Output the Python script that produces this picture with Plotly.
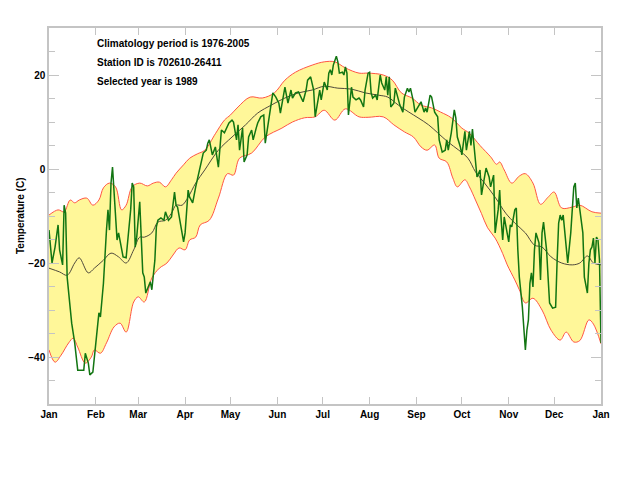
import plotly.graph_objects as go

# day of year (0 = 1 Jan) and temperature (C)
upper_days = [0, 6, 10, 14, 17, 20, 25, 29, 33, 36, 40, 44, 48, 51, 55, 60, 65, 69, 73, 77, 81, 84, 89, 93, 98,
              103, 110, 116, 120, 125, 133, 141, 149, 156, 163, 174, 182, 189, 196, 205, 211, 221, 227, 233, 240,
              246, 253, 259, 266, 273, 278, 285, 292, 296, 298, 301, 306, 311, 315, 320, 325, 330, 334, 339, 346,
              351, 359, 365]
upper_vals = [-9.8, -8.7, -9.1, -6.6, -7.2, -6.6, -6.2, -7.7, -6.6, -4.0, -3.0, -3.8, -8.7, -7.7, -3.8, -3.0, -3.6,
              -3.0, -2.8, -3.8, -2.3, -0.9, 0.9, 2.3, 3.2, 4.0, 7.5, 10.4, 11.5, 13.2, 15.3, 15.1, 16.2, 18.9, 20.6,
              22.1, 22.8, 22.8, 21.5, 20.4, 20.4, 20.0, 18.9, 16.2, 15.1, 13.6, 13.0, 12.1, 10.9, 8.7, 7.6, 5.0, 2.6,
              1.0, 1.5, -0.2, -3.0, -1.5, -1.0, -3.0, -7.5, -6.0, -4.9, -8.3, -8.1, -7.7, -9.1, -9.4]

lower_days = [0, 4, 8, 13, 16, 19, 24, 28, 30, 34, 38, 43, 47, 51, 56, 59, 63, 68, 73, 78, 82, 86, 90, 93, 97, 100,
              106, 112, 118, 122, 126, 134, 143, 154, 161, 169, 176, 182, 189, 196, 205, 211, 221, 228, 235, 241, 246,
              250, 255, 258, 263, 267, 270, 275, 278, 282, 286, 290, 295, 300, 303, 308, 311, 315, 320, 326, 332, 338,
              342, 347, 351, 357, 360, 365]
lower_vals = [-38.5, -41.1, -39.6, -37.0, -36.0, -37.9, -41.3, -40.0, -38.5, -39.2, -37.0, -33.6, -32.8, -34.7,
              -28.3, -27.2, -28.3, -23.2, -21.1, -20.0, -18.3, -16.8, -17.2, -15.1, -14.5, -11.9, -10.9, -6.2, -1.0,
              -1.3, 2.3, 3.4, 6.8, 8.7, 10.0, 10.9, 11.1, 12.5, 10.4, 12.8, 11.1, 11.0, 11.1, 9.4, 7.9, 6.8, 4.7, 4.0,
              5.1, 2.3, 1.5, -1.9, -3.8, -2.3, -3.8, -6.6, -9.5, -12.5, -14.7, -18.0, -20.4, -23.6, -25.7, -28.5,
              -27.5, -30.0, -34.3, -36.4, -34.7, -36.8, -36.5, -32.1, -33.0, -37.2]

mean_days = [0, 7, 12, 17, 20, 26, 30, 36, 41, 46, 51, 56, 60, 63, 68, 72, 77, 81, 84, 88, 92, 97, 103, 112, 121,
             130, 138, 147, 156, 165, 174, 182, 191, 200, 209, 218, 224, 231, 238, 244, 251, 257, 264, 271, 277,
             282, 288, 295, 302, 308, 315, 321, 326, 332, 339, 346, 351, 356, 360, 365]
mean_vals = [-21.1, -21.9, -22.6, -20.0, -18.9, -22.1, -21.1, -19.4, -17.9, -18.7, -20.0, -17.2, -14.5, -14.5,
             -13.6, -11.3, -10.9, -9.4, -7.7, -7.7, -6.0, -3.0, -0.2, 4.0, 6.8, 9.4, 11.9, 13.6, 15.1, 16.2, 16.8,
             17.6, 17.2, 17.0, 16.2, 15.7, 15.3, 13.6, 12.1, 10.9, 9.4, 7.7, 5.7, 4.0, 2.3, -0.6, -3.0, -6.0, -9.4,
             -11.5, -13.6, -16.2, -16.6, -18.7, -20.0, -20.4, -20.0, -18.5, -20.0, -20.4]

year_days = [0, 2, 4, 6, 7, 9, 10, 11, 12, 15, 17, 19, 23, 24, 26, 27, 29, 31, 33, 34, 36, 38, 39, 40, 41, 42, 43,
             45, 46, 48, 49, 51, 52, 53, 54, 55, 56, 57, 58, 60, 61, 62, 63, 64, 67, 68, 70, 71, 72, 74, 76, 77, 79,
             81, 83, 84, 85, 88, 89, 90, 91, 92, 93, 95, 97, 99, 101, 102, 104, 105, 106, 108, 110, 112, 114, 116,
             119, 121, 122, 124, 125, 126, 128, 129, 131, 132, 134, 135, 137, 138, 140, 142, 143, 145, 147, 148, 150,
             152, 153, 155, 156, 158, 160, 161, 163, 165, 167, 168, 170, 171, 173, 175, 176, 178, 179, 180, 182, 184,
             185, 186, 187, 188, 189, 190, 191, 192, 194, 195, 196, 197, 198, 200, 201, 203, 205, 206, 208, 209, 211,
             212, 213, 214, 216, 217, 219, 220, 222, 223, 224, 225, 226, 228, 229, 231, 232, 234, 235, 237, 238, 239,
             241, 242, 244, 246, 248, 249, 250, 252, 253, 255, 257, 258, 260, 262, 263, 264, 266, 268, 269, 270, 272,
             273, 275, 276, 278, 279, 280, 282, 283, 285, 286, 288, 289, 291, 292, 294, 295, 297, 298, 299, 300, 301,
             302, 304, 305, 306, 308, 309, 310, 311, 313, 314, 315, 316, 317, 318, 319, 320, 321, 322, 324, 325, 326,
             327, 329, 330, 331, 333, 335, 336, 337, 338, 339, 340, 341, 342, 343, 345, 346, 347, 348, 349, 350, 352,
             353, 354, 356, 357, 358, 359, 360, 361, 362, 363, 364, 365]
year_vals = [-13.0, -20.0, -16.6, -11.9, -17.2, -20.4, -7.7, -9.4, -23.0, -32.8, -37.0, -42.8, -42.8, -39.2, -41.3,
             -43.8, -43.2, -36.4, -30.6, -31.5, -24.3, -13.0, -8.7, -13.0, -3.0, 0.4, -4.5, -15.1, -13.6, -16.6,
             -18.7, -18.9, -15.1, -12.3, -8.7, -3.0, -3.8, -16.6, -14.5, -7.0, -13.6, -22.1, -23.0, -26.4, -24.0,
             -25.7, -19.4, -12.3, -10.9, -10.4, -10.9, -9.1, -10.9, -10.2, -4.9, -7.7, -8.1, -13.6, -15.5, -13.6,
             -8.5, -4.5, -6.0, -7.2, -3.8, -0.9, 2.6, 3.4, 4.0, 5.5, 6.2, 3.0, 4.7, 0.4, 8.3, 7.7, 9.8, 10.4, 10.0,
             6.2, 9.4, 4.0, 8.7, 1.5, 3.0, 6.8, 8.3, 6.2, 8.7, 9.8, 11.1, 11.5, 5.5, 9.8, 14.7, 16.2, 15.3, 14.0,
             11.9, 16.2, 17.4, 14.0, 16.8, 15.1, 16.2, 16.4, 14.7, 14.3, 16.8, 18.9, 19.6, 16.8, 11.1, 15.1, 16.8,
             14.7, 18.5, 16.8, 20.4, 21.1, 20.0, 22.1, 23.2, 24.0, 22.8, 20.4, 20.6, 20.0, 21.7, 20.4, 11.5, 17.4,
             15.3, 14.7, 15.1, 14.7, 13.2, 16.8, 20.4, 20.6, 16.2, 15.1, 15.7, 14.7, 20.0, 18.3, 16.8, 19.6, 15.7,
             19.6, 13.2, 14.0, 17.2, 15.1, 13.6, 12.1, 15.3, 17.2, 16.4, 17.2, 14.3, 12.1, 13.2, 14.3, 12.1, 13.0,
             12.1, 15.7, 15.3, 12.1, 11.1, 6.2, 3.6, 4.0, 6.2, 4.0, 7.7, 12.6, 10.9, 6.8, 4.7, 3.0, 8.0, 4.0, 8.0,
             5.0, 8.5, 1.5, -1.7, -0.2, -5.5, -1.7, 0.2, -1.7, -3.8, -1.3, -13.6, -8.7, -4.5, -10.9, -15.1, -10.2,
             -12.3, -15.5, -11.9, -12.3, -8.7, -8.3, -17.2, -23.0, -29.4, -34.3, -38.5, -34.3, -32.1, -24.3, -22.1,
             -25.1, -17.2, -13.6, -15.7, -23.6, -13.6, -11.3, -17.2, -23.0, -28.5, -29.6, -29.4, -19.4, -11.5, -9.8,
             -10.9, -9.8, -13.0, -17.2, -20.0, -13.6, -7.2, -3.8, -3.0, -8.3, -6.2, -10.9, -13.6, -23.0, -26.4,
             -20.0, -17.2, -16.6, -14.7, -20.0, -14.5, -15.1, -19.4, -37.0]

month_starts = [0, 31, 59, 90, 120, 151, 181, 212, 243, 273, 304, 334, 365]
month_labels = ["Jan", "Feb", "Mar", "Apr", "May", "Jun", "Jul", "Aug", "Sep", "Oct", "Nov", "Dec", "Jan"]
notes = ["Climatology period is 1976-2005", "Station ID is 702610-26411", "Selected year is 1989"]

font = dict(family="Liberation Sans, Arial, sans-serif", size=10, color="black", weight="bold")
frame = "#c4c4c4"

fig = go.Figure()
fig.add_trace(go.Scatter(x=lower_days, y=lower_vals, mode="lines", line=dict(color="#ff5544", width=1, shape="spline"),
                         hoverinfo="skip"))
fig.add_trace(go.Scatter(x=upper_days, y=upper_vals, mode="lines", line=dict(color="#ff5544", width=1, shape="spline"),
                         fill="tonexty", fillcolor="#fff799", hoverinfo="skip"))
fig.add_trace(go.Scatter(x=mean_days, y=mean_vals, mode="lines", line=dict(color="#4f4a3c", width=1, shape="spline")))
fig.add_trace(go.Scatter(x=year_days, y=year_vals, mode="lines", line=dict(color="#127512", width=1.5)))

# note lines sit at fixed pixel offsets below the top of the plot area (376 px tall)
for i, t in enumerate(notes):
    fig.add_annotation(x=(95 - 49) / 1.512, y=1 - (16 + 18.5 * i) / 376, xref="x", yref="paper", text=t,
                       showarrow=False, xanchor="left", yanchor="middle", font=font)

fig.add_annotation(x=-0.0525, y=0.5, xref="paper", yref="paper", text="Temperature (C)", textangle=-90,
                   showarrow=False, xanchor="center", yanchor="middle", font=font)

# page body adds 8px, so margins are 8px smaller than the target positions
fig.update_layout(
    width=628, height=482, margin=dict(l=41, r=35, t=20, b=86),
    plot_bgcolor="white", paper_bgcolor="white", showlegend=False, font=font,
    xaxis=dict(range=[0, 365], tickvals=month_starts, ticktext=month_labels, ticks="inside", ticklen=7,
               tickcolor=frame, showline=True, linecolor=frame, linewidth=1.5, mirror="ticks",
               showgrid=False, zeroline=False, tickfont=font),
    yaxis=dict(range=[-50, 30], tickvals=[-40, -20, 0, 20], ticks="inside", ticklen=10, tickcolor=frame,
               showline=True, linecolor=frame, linewidth=1.5, mirror="ticks", showgrid=False, zeroline=False,
               tickfont=font, automargin=False,
               minor=dict(dtick=5, ticks="inside", ticklen=6, tickcolor=frame, showgrid=False)),
)

fig.write_html("out.html")
